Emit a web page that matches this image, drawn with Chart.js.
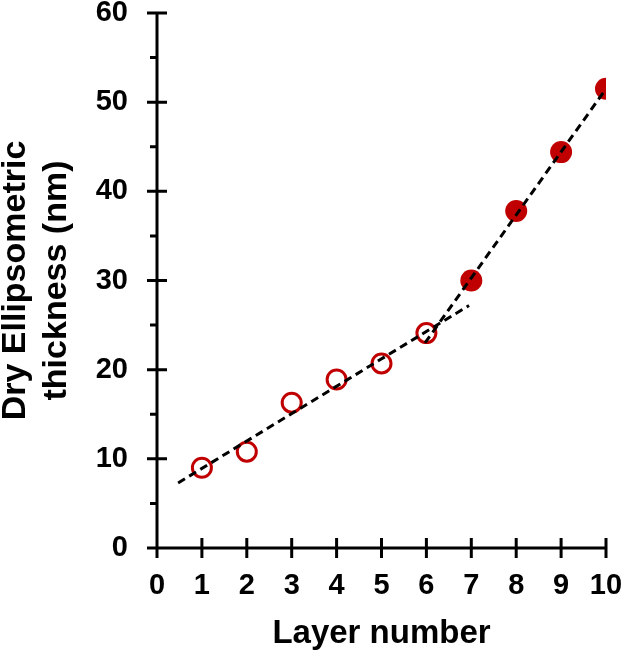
<!DOCTYPE html>
<html>
<head>
<meta charset="utf-8">
<script src="https://cdn.jsdelivr.net/npm/chart.js@4.4.0/dist/chart.umd.min.js"></script>
<style>
  html, body { margin: 0; padding: 0; background: #fff; }
  canvas { display: block; }
</style>
</head>
<body>
<canvas id="thicknessChart" width="625" height="652"></canvas>
<script>
// values
var layers = [1, 2, 3, 4, 5, 6, 7, 8, 9, 10];
var thickness = [9.0, 10.8, 16.3, 18.9, 20.7, 24.1, 30.0, 37.8, 44.4, 51.5];
var openCount = 6; // layers 1-6 drawn as open circles, the rest filled

// the two dashed fit lines (end points)
var fitLowX = [0.47, 6.95];
var fitLowY = [7.3, 27.2];
var fitHighX = [5.97, 10];
var fitHighY = [23.0, 51.5];

var xMajorTicks = [0, 1, 2, 3, 4, 5, 6, 7, 8, 9, 10];
var yMajorTicks = [0, 10, 20, 30, 40, 50, 60];
var yMinorTicks = [5, 15, 25, 35, 45, 55];

var red = '#c00000';
var fontFamily = "'Liberation Sans', Arial, sans-serif";

function toPoints(xs, ys) {
    var out = [];
    for (var i = 0; i < xs.length; i++) {
        out.push({x: xs[i], y: ys[i]});
    }
    return out;
}

// chart.js pads scales for label overhang; we place the plot area ourselves
function fixScale(size, key) {
    return function(scale) {
        scale[key] = size;
        scale.paddingTop = 0;
        scale.paddingBottom = 0;
        scale.paddingLeft = 0;
        scale.paddingRight = 0;
    };
}

var axisMarks = {
    id: 'axisMarks',
    beforeDatasetsDraw: function(chart) {
        var ctx = chart.ctx;
        var xs = chart.scales.x, ys = chart.scales.y;
        var xLeft = xs.getPixelForValue(0), xRight = xs.getPixelForValue(10);
        var yBottom = ys.getPixelForValue(0), yTop = ys.getPixelForValue(60);
        ctx.save();
        ctx.strokeStyle = '#000';
        ctx.lineWidth = 3;
        ctx.beginPath();
        ctx.moveTo(xLeft, yTop);
        ctx.lineTo(xLeft, yBottom);
        ctx.moveTo(xLeft, yBottom);
        ctx.lineTo(xRight + 1.5, yBottom);
        for (var i = 0; i < yMajorTicks.length; i++) {
            var py = ys.getPixelForValue(yMajorTicks[i]);
            ctx.moveTo(xLeft - 10, py);
            ctx.lineTo(xLeft + 10, py);
        }
        for (var j = 0; j < yMinorTicks.length; j++) {
            var my = ys.getPixelForValue(yMinorTicks[j]);
            ctx.moveTo(xLeft - 7, my);
            ctx.lineTo(xLeft, my);
        }
        for (var k = 0; k < xMajorTicks.length; k++) {
            var px = xs.getPixelForValue(xMajorTicks[k]);
            ctx.moveTo(px, yBottom - 10);
            ctx.lineTo(px, yBottom + 10);
        }
        ctx.stroke();
        ctx.restore();
    }
};

var ctx = document.getElementById('thicknessChart').getContext('2d');
var chart = new Chart(ctx, {
    type: 'scatter',
    data: {
        datasets: [
            {
                label: 'fit 1-6',
                data: toPoints(fitLowX, fitLowY),
                showLine: true,
                borderColor: '#000',
                borderWidth: 3,
                borderDash: [8, 5],
                pointRadius: 0,
                order: 0
            },
            {
                label: 'fit 6-10',
                data: toPoints(fitHighX, fitHighY),
                showLine: true,
                borderColor: '#000',
                borderWidth: 3,
                borderDash: [8, 5],
                pointRadius: 0,
                order: 0
            },
            {
                label: 'open',
                data: toPoints(layers.slice(0, openCount), thickness.slice(0, openCount)),
                pointRadius: 9.5,
                pointBorderWidth: 3,
                pointBorderColor: red,
                pointBackgroundColor: '#fff',
                order: 1
            },
            {
                label: 'filled',
                data: toPoints(layers.slice(openCount), thickness.slice(openCount)),
                pointRadius: 11,
                pointBorderWidth: 0,
                pointBorderColor: red,
                pointBackgroundColor: red,
                order: 1
            }
        ]
    },
    options: {
        responsive: false,
        devicePixelRatio: 1,
        animation: false,
        layout: { padding: { left: 0, top: 13, right: 19, bottom: 0 } },
        plugins: {
            legend: { display: false },
            tooltip: { enabled: false }
        },
        scales: {
            x: {
                type: 'linear',
                min: 0,
                max: 10,
                grid: { display: false, drawTicks: false },
                border: { display: false },
                ticks: {
                    stepSize: 1,
                    padding: 23,
                    color: '#000',
                    font: { family: fontFamily, size: 29, weight: 'bold', lineHeight: 1 }
                },
                title: {
                    display: true,
                    text: 'Layer number',
                    color: '#000',
                    padding: { top: 0, bottom: 0 },
                    font: { family: fontFamily, size: 33, weight: 'bold', lineHeight: 1.1 }
                },
                afterFit: fixScale(104, 'height')
            },
            y: {
                type: 'linear',
                min: 0,
                max: 60,
                grid: { display: false, drawTicks: false },
                border: { display: false },
                ticks: {
                    stepSize: 10,
                    padding: 29,
                    color: '#000',
                    font: { family: fontFamily, size: 29, weight: 'bold', lineHeight: 1 }
                },
                title: {
                    display: true,
                    text: ['Dry Ellipsometric', 'thickness (nm)'],
                    color: '#000',
                    padding: { top: -4, bottom: 0 },
                    font: { family: fontFamily, size: 34, weight: 'bold', lineHeight: 1.18 }
                },
                afterFit: fixScale(157, 'width')
            }
        }
    },
    plugins: [axisMarks]
});
</script>
</body>
</html>
